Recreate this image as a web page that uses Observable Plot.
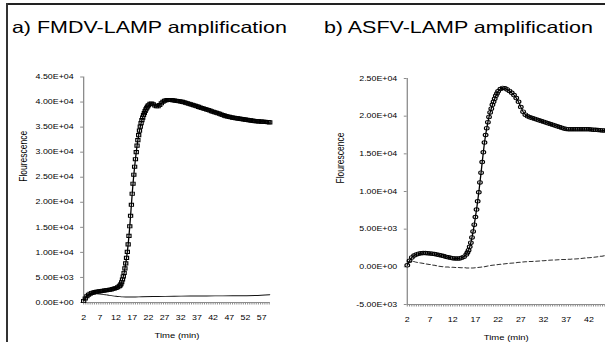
<!DOCTYPE html>
<html><head><meta charset="utf-8">
<script src="https://cdn.jsdelivr.net/npm/d3@7"></script>
<script src="https://cdn.jsdelivr.net/npm/@observablehq/plot@0.6"></script>
<style>
html,body{margin:0;padding:0;background:#fff;}
#stage{position:relative;width:605px;height:342px;overflow:hidden;background:#fff;font-family:"Liberation Sans",Arial,sans-serif;}
#wrap{position:absolute;left:0;top:0;width:465.4px;height:342px;transform:scaleX(1.3);transform-origin:0 0;}
.title{position:absolute;font-size:16.5px;line-height:1;white-space:nowrap;color:#000;}
.panel{position:absolute;top:0;}
.panel svg{overflow:visible;}
</style></head><body>
<div id="stage">
  <div id="wrap">
    <div class="title" style="left:9.2px;top:19.4px">a) FMDV-LAMP amplification</div>
    <div class="title" style="left:249.2px;top:19.4px">b) ASFV-LAMP amplification</div>
    <div class="panel" id="pa" style="left:0px"></div>
    <div class="panel" id="pb" style="left:232.3px"></div>
  </div>
  <div style="position:absolute;left:6px;top:3px;width:599px;height:1.5px;background:#222"></div>
  <div style="position:absolute;left:6px;top:3px;width:2px;height:339px;background:#333"></div>
</div>
<script>
// ---------- Panel a: FMDV-LAMP ----------
const timeA = [2,2.5,3,3.5,4,4.5,5,5.5,6,6.5,7,7.5,8,8.5,9,9.5,10,10.5,11,11.5,12,12.5,13,
  13.25,13.5,13.75,14,14.25,14.5,14.75,15,15.25,15.5,15.75,16,16.25,16.5,16.75,17,17.25,17.5,17.75,
  18,18.25,18.5,18.75,19,19.25,19.5,19.75,20,20.25,20.5,20.75,21,21.25,21.5,21.75,22,
  22.5,23,23.5,24,24.5,25,25.5,26,26.5,27,27.5,28,28.5,29,29.5,30,30.5,31,31.5,32,32.5,33,33.5,
  34,34.5,35,35.5,36,36.5,37,37.5,38,38.5,39,39.5,40,40.5,41,41.5,42,42.5,43,43.5,44,44.5,45,45.5,
  46,46.5,47,47.5,48,48.5,49,49.5,50,50.5,51,51.5,52,52.5,53,53.5,54,54.5,55,55.5,56,56.5,57,57.5,
  58,58.5,59,59.5];
const fluorA = [300,800,1250,1550,1750,1900,2000,2080,2150,2200,2250,2300,2350,2400,2450,2500,2550,2600,2680,2780,2900,3050,3250,
  3400,3650,4050,4600,5200,5900,6800,7800,8900,10100,11600,13300,15200,17300,19500,21700,23700,25500,27100,
  28600,30000,31300,32400,33400,34300,35100,35800,36400,36900,37400,37800,38200,38550,38850,39100,39350,
  39650,39700,39550,39300,39150,39150,39400,39750,40050,40250,40350,40400,40420,40400,40350,40300,40250,40200,40150,40100,40030,39950,39850,
  39750,39650,39550,39450,39350,39250,39150,39030,38900,38800,38700,38600,38500,38400,38300,38180,38050,37950,37850,37750,37650,37530,37400,37300,
  37200,37120,37050,36980,36900,36850,36800,36750,36700,36650,36600,36550,36500,36450,36400,36350,36300,36250,36200,36170,36150,36120,36100,36070,
  36050,36020,36000,35950];
const timeCtrlA = [2,3,4,5,6,7,8,9,10,11,12,13,14,16,18,20,25,30,35,40,45,50,55,59.5];
const ctrlA = [700,1350,1600,1700,1720,1700,1620,1520,1420,1330,1250,1180,1120,1080,1100,1150,1200,1250,1280,1300,1320,1350,1400,1550];
const yTicksA = [0,5000,10000,15000,20000,25000,30000,35000,40000,45000];
const xLabelsA = [2,7,12,17,22,27,32,37,42,47,52,57];

// ---------- Panel b: ASFV-LAMP ----------
const timeB = [2,2.5,3,3.5,4,4.5,5,5.5,6,6.5,7,7.5,8,8.5,9,9.5,10,10.5,11,11.5,12,12.5,13,13.5,14,14.5,15,
  15.25,15.5,15.75,16,16.25,16.5,16.75,17,17.25,17.5,17.75,18,18.25,18.5,18.75,19,19.25,19.5,19.75,20,20.25,20.5,20.75,21,21.25,21.5,21.75,22,
  22.5,23,23.5,24,24.5,25,25.5,26,26.5,27,27.5,28,28.5,29,29.5,30,30.5,31,31.5,32,32.5,33,33.5,34,34.5,35,35.5,36,36.5,37,37.5,
  38,38.5,39,39.5,40,40.5,41,41.5,42,42.5,43,43.5,44,44.5,45,45.5];
const fluorB = [200,800,1250,1500,1650,1750,1800,1820,1820,1800,1780,1750,1700,1640,1570,1500,1420,1340,1260,1200,1150,1110,1100,1120,1200,1350,1650,
  1900,2200,2650,3200,3900,4700,5600,6600,7600,8700,9900,11200,12500,13900,15200,16500,17500,18400,19200,19900,20500,21000,21500,21900,22300,22700,23000,23300,
  23600,23750,23700,23550,23350,23100,22800,22400,21900,21200,20600,20200,20000,19850,19750,19650,19550,19450,19350,19250,19150,19050,18950,18850,18750,18650,18550,18450,18370,18300,18270,
  18250,18250,18250,18250,18250,18250,18250,18250,18250,18230,18200,18180,18150,18130,18100,18100];
const timeCtrlB = [2,3,4,5,6,7,8,9,10,11,12,13,14,15,16,17,18,19,20,22,24,26,28,30,32,34,36,38,40,42,44,45.5];
const ctrlB = [650,720,620,500,390,300,200,80,0,-40,-70,-100,-120,-140,-150,-120,-60,20,150,300,430,550,660,740,820,900,960,1020,1100,1210,1340,1500];
const yTicksB = [-5000,0,5000,10000,15000,20000,25000];
const xLabelsB = [2,7,12,17,22,27,32,37,42];

const axisColor = "#8c8c8c";
const font = "'Liberation Sans', Arial, sans-serif";

function sci(v) {
  if (v === 0) return "0.00E+00";
  const e = Math.floor(Math.log10(Math.abs(v)));
  const m = v / Math.pow(10, e);
  return m.toFixed(2) + "E" + (e < 0 ? "-" : "+") + String(Math.abs(e)).padStart(2, "0");
}

function panel({width, marginLeft, marginRight, marginTop, marginBottom, xDomain, yDomain, yTicks, xLabels, minorStep,
                time, fluor, ctrlTime, ctrl, symbol, r, dashed, yLabelDx, yLabelDy}) {
  const minor = d3.range(xDomain[0], xDomain[1] + 1e-9, minorStep);
  return Plot.plot({
    width, height: 342, marginLeft, marginRight, marginTop, marginBottom,
    style: {fontFamily: font, fontSize: "6.8px", background: "transparent", color: "#000"},
    x: {domain: xDomain},
    y: {domain: yDomain},
    marks: [
      Plot.ruleX([xDomain[0]], {y1: yDomain[0], y2: yDomain[1], stroke: axisColor}),
      Plot.ruleY([yDomain[0]], {stroke: axisColor}),
      Plot.ruleX(minor, {y1: yDomain[0], y2: yDomain[0], insetTop: 0, insetBottom: -2.5, stroke: axisColor, strokeWidth: 0.8}),
      Plot.axisY(yTicks, {anchor: "left", tickSize: 2.2, tickPadding: 5.5, tickFormat: sci, stroke: axisColor, fill: "#000", label: null}),
      Plot.axisX(xLabels, {anchor: "bottom", tickSize: 0, tickPadding: 13, tickFormat: d => String(d), fill: "#000", label: null}),
      Plot.text(["Flourescence"], {frameAnchor: "left", dx: yLabelDx, dy: yLabelDy, rotate: -90, fontSize: 8.5, fill: "#000"}),
      Plot.text(["Time (min)"], {frameAnchor: "bottom", dy: 35.8, fontSize: 7.3, fill: "#000"}),
      Plot.line(ctrl, {x: ctrlTime, y: ctrl, stroke: dashed ? "#333" : "#111", strokeWidth: dashed ? 1 : 0.9,
                       strokeDasharray: dashed ? "3,2" : null, curve: "monotone-x"}),
      Plot.line(fluor, {x: time, y: fluor, stroke: "#000", strokeWidth: 1}),
      Plot.dot(fluor, {x: time, y: fluor, symbol, r, fill: "none", stroke: "#000", strokeWidth: 0.9})
    ]
  });
}

document.getElementById("pa").appendChild(panel({
  width: 232.3, marginLeft: 63.85, marginRight: 24.8, marginTop: 76.5, marginBottom: 40,
  xDomain: [2, 59.7], yDomain: [0, 45000], yTicks: yTicksA, xLabels: xLabelsA, minorStep: 2/3,
  time: timeA, fluor: fluorA, ctrlTime: timeCtrlA, ctrl: ctrlA, symbol: "square", r: 1.8, dashed: false,
  yLabelDx: -46, yLabelDy: -8
}));
document.getElementById("pb").appendChild(panel({
  width: 233.1, marginLeft: 80.8, marginRight: 0, marginTop: 78, marginBottom: 38,
  xDomain: [2, 45.6], yDomain: [-5000, 25000], yTicks: yTicksB, xLabels: xLabelsB, minorStep: 0.5,
  time: timeB, fluor: fluorB, ctrlTime: timeCtrlB, ctrl: ctrlB, symbol: "circle", r: 1.8, dashed: true,
  yLabelDx: -51.6, yLabelDy: -8
}));
</script>
</body></html>
